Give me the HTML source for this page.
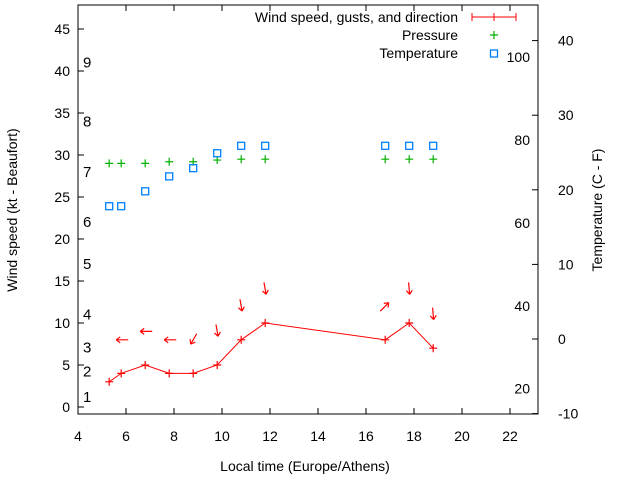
<!DOCTYPE html>
<html><head><meta charset="utf-8"><style>
body{margin:0;background:#fff}
svg text{font-family:"Liberation Sans",sans-serif;font-size:14px;fill:#000}
</style></head><body>
<svg id="c" width="640" height="480"></svg>
<script>
const times=[5.3,5.8,6.8,7.8,8.8,9.8,10.8,11.8,16.8,17.8,18.8];
const wind=[3,4,5,4,4,5,8,10,8,10,7];
const gustArrowY=[null,8,9,8,8,9,12,14,12,14,11];
const windDir=[null,270,270,270,210,170,170,170,45,175,175];
const pressure=[29,29,29,29.2,29.2,29.4,29.5,29.5,29.5,29.5,29.5];
const tempC=[17.8,17.8,19.8,21.8,22.9,24.9,25.9,25.9,25.9,25.9,25.9];
const xTicks=[4,6,8,10,12,14,16,18,20,22];
const yTicks=[0,5,10,15,20,25,30,35,40,45];
const cTicks=[-10,0,10,20,30,40];
const fTicks=[20,40,60,80,100];
const bft=[["1",1.2],["2",4.2],["3",7.1],["4",11],["5",17],["6",22],["7",28],["8",34],["9",41]];
const L=78,R=538,T=5,B=414;
const X=v=>L+(v-4)*24, Y=v=>407-v*8.4, YC=c=>339-c*7.46;
const s=document.getElementById('c');const NS="http://www.w3.org/2000/svg";
function el(t,a,p){const e=document.createElementNS(NS,t);for(const k in a)e.setAttribute(k,a[k]);(p||s).appendChild(e);return e;}
function tx(x,y,str,anchor,name){const e=el('text',{x:x,y:y,'text-anchor':anchor||'start'});e.textContent=str;

return e;}
const box=el('rect',{x:L,y:T,width:R-L,height:B-T,fill:'none',stroke:'#000','stroke-width':1});


xTicks.forEach(v=>{el('line',{x1:X(v),x2:X(v),y1:B,y2:B-6,stroke:'#000'});el('line',{x1:X(v),x2:X(v),y1:T,y2:T+6,stroke:'#000'});tx(X(v),441,String(v),'middle','x-tick-label');});
yTicks.forEach(v=>{el('line',{x1:L,x2:L+6,y1:Y(v),y2:Y(v),stroke:'#000'});tx(L-8,Y(v)+5,String(v),'end','y-tick-label');});
cTicks.forEach(v=>{el('line',{x1:R,x2:R-6,y1:YC(v),y2:YC(v),stroke:'#000'});tx(R+20,YC(v)+5,String(v),'start','temp-c-tick-label');});
fTicks.forEach(v=>{tx(530,YC((v-32)*5/9)+5,String(v),'end','temp-f-label');});
bft.forEach(b=>{const t=tx(83,Y(b[1])+5,b[0],'start','beaufort-label');t.style.fontSize='15px';});
tx(305,471,'Local time (Europe/Athens)','middle','x-axis-title');
const yl=tx(0,0,'Wind speed (kt - Beaufort)','middle','y-axis-title');yl.setAttribute('transform','translate(17,210) rotate(-90)');
const yr=tx(0,0,'Temperature (C - F)','middle','y2-axis-title');yr.setAttribute('transform','translate(602,210) rotate(-90)');
const pl=el('polyline',{points:times.map((t,i)=>X(t)+','+Y(wind[i])).join(' '),fill:'none',stroke:'#f00'});


function plus(x,y,c,name){const g=el('path',{d:`M${x-4},${y}h8M${x},${y-4}v8`,stroke:c,'stroke-width':1.2});

}
times.forEach((t,i)=>{plus(X(t),Y(wind[i]),'#f00','wind-point');
 plus(X(t),Y(pressure[i]),'#00b000','pressure-point');
 const q=el('rect',{x:X(t)-3.5,y:YC(tempC[i])-3.5,width:7,height:7,fill:'none',stroke:'#0080ff','stroke-width':1.3});
 
 
 if(gustArrowY[i]!==null){const a=windDir[i]*Math.PI/180;const cx=X(t),cy=Y(gustArrowY[i]);
  const dx=Math.sin(a),dy=-Math.cos(a);
  const x1=cx-dx*7,y1=cy-dy*7,x2=cx+dx*5,y2=cy+dy*5;
  const ar=el('path',{d:`M${x1},${y1}L${x2},${y2}M${x2},${y2}l${-dx*4+dy*3},${-dy*4-dx*3}M${x2},${y2}l${-dx*4-dy*3},${-dy*4+dx*3}`,stroke:'#f00','stroke-width':1.2,fill:'none'});
  
  }
});
tx(458,22,'Wind speed, gusts, and direction','end','legend-wind-label');
const lw=el('path',{d:'M472,17H516M472,13v8M516,13v8M494,13v8',stroke:'#f00'});


tx(458,40,'Pressure','end','legend-pressure-label');plus(494,35,'#00b000','legend-pressure-sample');
tx(458,58,'Temperature','end','legend-temperature-label');
const lt=el('rect',{x:490.5,y:50,width:7,height:7,fill:'none',stroke:'#0080ff','stroke-width':1.3});


</script>
</body></html>
